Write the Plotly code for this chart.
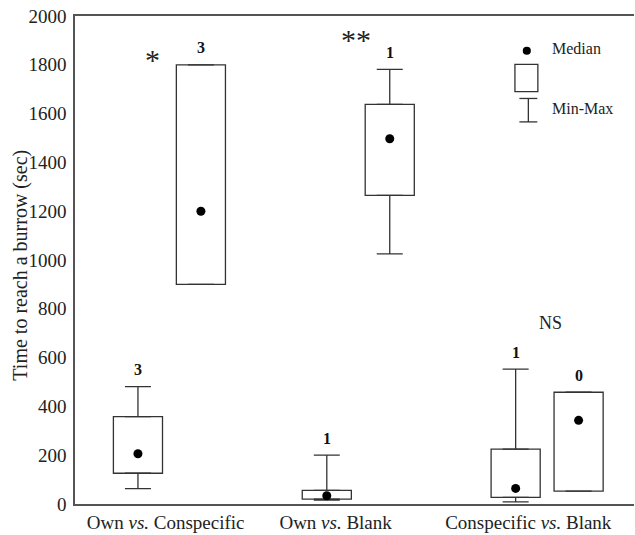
import plotly.graph_objects as go

# ---- data ----
categories = ["Own <i>vs.</i> Conspecific", "Own <i>vs.</i> Blank", "Conspecific <i>vs.</i> Blank"]
group_index = [0, 0, 1, 1, 2, 2]          # which comparison each box belongs to
side = [-1, 1, -1, 1, -1, 1]              # left / right box within comparison
medians = [206, 1200, 34, 1497, 64, 343]
q1 = [126, 900, 20, 1265, 27, 53]
q3 = [358, 1800, 56, 1638, 225, 458]
mins = [63, 900, 16, 1025, 9, 53]
maxs = [481, 1800, 200, 1781, 553, 458]
counts = ["3", "3", "1", "1", "1", "0"]
significance = ["*", "**", "NS"]
sig_y = [1820, 1905, 742]
y_ticks = [0, 200, 400, 600, 800, 1000, 1200, 1400, 1600, 1800, 2000]
y_title = "Time to reach a burrow (sec)"

# ---- styles / positions ----
OFFSET = 1 / 6
BOX_W = 0.26
LINE = "#333333"
AXIS = "#555555"
FONT = "Liberation Serif"

xpos = [g + s * OFFSET for g, s in zip(group_index, side)]
label_pos = [-0.02, 0.88, 1.9]
sig_x = [-0.09, 0.99, 2.02]

fig = go.Figure()

# boxes (interquartile range)
fig.add_trace(go.Bar(
    x=xpos, y=[b - a for a, b in zip(q1, q3)], base=q1, width=BOX_W,
    marker=dict(color="white", line=dict(color=LINE, width=1.3)),
    showlegend=False, hoverinfo="skip"))

# upper whiskers
fig.add_trace(go.Scatter(
    x=xpos, y=q3, mode="markers", marker=dict(opacity=0, size=1),
    error_y=dict(type="data", symmetric=False,
                 array=[mx - t for mx, t in zip(maxs, q3)],
                 arrayminus=[0] * len(q3),
                 width=13, thickness=1.3, color=LINE),
    showlegend=False, hoverinfo="skip"))

# lower whiskers
fig.add_trace(go.Scatter(
    x=xpos, y=q1, mode="markers", marker=dict(opacity=0, size=1),
    error_y=dict(type="data", symmetric=False,
                 array=[0] * len(q1),
                 arrayminus=[b - mn for b, mn in zip(q1, mins)],
                 width=13, thickness=1.3, color=LINE),
    showlegend=False, hoverinfo="skip"))

# medians
fig.add_trace(go.Scatter(
    x=xpos, y=medians, mode="markers",
    marker=dict(color="black", size=9, symbol="circle"),
    showlegend=False, hoverinfo="skip"))

annotations = []
for x, mx, c in zip(xpos, maxs, counts):
    annotations.append(dict(x=x, y=mx, text=f"<b>{c}</b>", showarrow=False,
                            yshift=17, font=dict(family=FONT, size=16, color="#111")))
for x, y, s in zip(sig_x, sig_y, significance):
    annotations.append(dict(x=x, y=y, text=s, showarrow=False,
                            font=dict(family=FONT, size=30 if s != "NS" else 18, color="#222")))

# y-axis title
annotations.append(dict(xref="paper", yref="paper", x=-0.097, y=0.49, text=y_title,
                        textangle=-90, xanchor="center", yanchor="middle", showarrow=False,
                        font=dict(family=FONT, size=20, color="#222")))

# legend (drawn in paper coordinates)
annotations.append(dict(xref="paper", yref="paper", x=0.849, y=0.934, text="Median",
                        xanchor="left", yanchor="middle", showarrow=False,
                        font=dict(family=FONT, size=16, color="#222")))
annotations.append(dict(xref="paper", yref="paper", x=0.849, y=0.811, text="Min-Max",
                        xanchor="left", yanchor="middle", showarrow=False,
                        font=dict(family=FONT, size=16, color="#222")))
shapes = [
    dict(type="circle", xref="paper", yref="paper", x0=0.801, x1=0.8155, y0=0.9207, y1=0.937,
         fillcolor="black", line=dict(color="black", width=0)),
    dict(type="rect", xref="paper", yref="paper", x0=0.787, x1=0.828, y0=0.845, y1=0.901,
         line=dict(color=LINE, width=1.3), fillcolor="white"),
    dict(type="line", xref="paper", yref="paper", x0=0.811, x1=0.811, y0=0.783, y1=0.831,
         line=dict(color=LINE, width=1.3)),
    dict(type="line", xref="paper", yref="paper", x0=0.795, x1=0.827, y0=0.831, y1=0.831,
         line=dict(color=LINE, width=1.3)),
    dict(type="line", xref="paper", yref="paper", x0=0.795, x1=0.827, y0=0.783, y1=0.783,
         line=dict(color=LINE, width=1.3)),
]

fig.update_layout(
    width=635, height=535,
    margin=dict(l=75, r=1, t=16, b=31),
    paper_bgcolor="white", plot_bgcolor="white",
    barmode="overlay",
    font=dict(family=FONT, size=19, color="#222"),
    annotations=annotations, shapes=shapes,
    showlegend=False,
)
fig.update_xaxes(
    range=[-0.5, 2.46], tickvals=label_pos, ticktext=categories,
    showline=True, linecolor=AXIS, linewidth=1.5, mirror=True,
    showgrid=False, zeroline=False, ticks="", automargin=False,
    ticklabeloverflow="allow",
    tickfont=dict(family=FONT, size=19, color="#222"),
)
fig.update_yaxes(
    range=[0, 2000], tickvals=y_ticks,
    showline=True, linecolor=AXIS, linewidth=1.5, mirror=False,
    showgrid=False, zeroline=False, ticks="", automargin=False,
    ticklabelstandoff=3, ticklabeloverflow="allow",
    tickfont=dict(family=FONT, size=19, color="#222"),
)

# remove the default page margin so the figure sits at the window's top-left corner
fig.write_html("out.html", config={"displayModeBar": False},
               post_script="document.body.style.margin='0';")
